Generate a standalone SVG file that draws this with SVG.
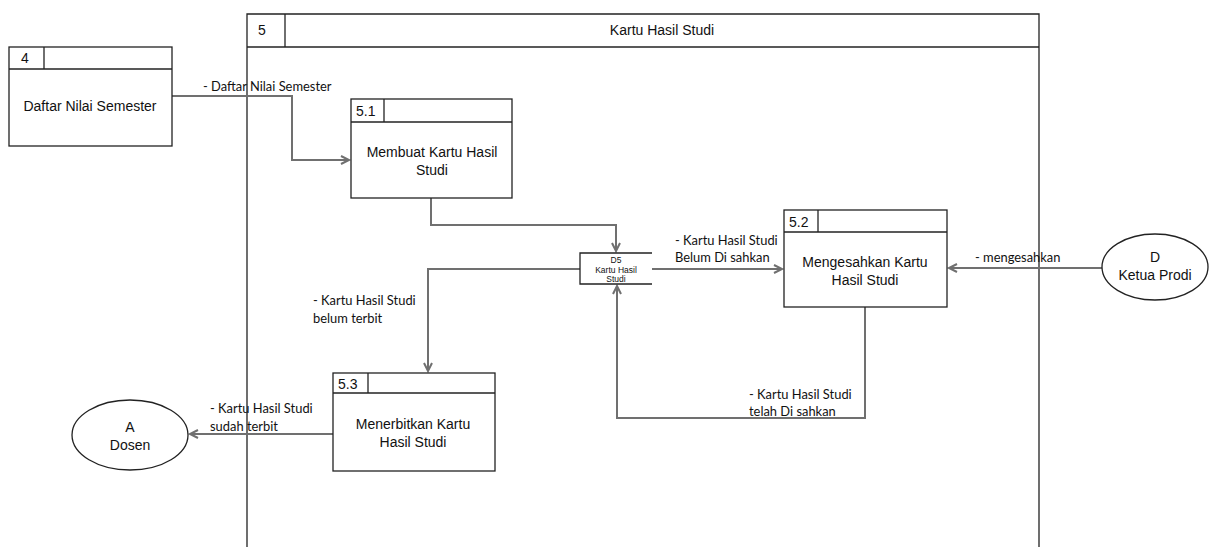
<svg xmlns="http://www.w3.org/2000/svg" width="1209" height="547" viewBox="0 0 1209 547">
  <style>
    .box { fill: #fff; stroke: #222; stroke-width: 1.3; }
    .sep { fill: none; stroke: #222; stroke-width: 1.3; }
    .flow { fill: none; stroke: #707070; stroke-width: 2; }
    .t { font-family: "Liberation Sans", Arial, sans-serif; font-size: 14px; fill: #111; text-anchor: middle; }
    .num { font-family: "Liberation Sans", Arial, sans-serif; font-size: 14px; fill: #111; }
    .lbl { font-family: Lato, "Noto Sans", sans-serif; font-size: 12.9px; fill: #111; }
    .ds { font-family: "Liberation Sans", Arial, sans-serif; font-size: 8.5px; fill: #111; text-anchor: middle; }
  </style>
  <defs>
    <marker id="arr" markerWidth="12" markerHeight="12" refX="9" refY="5" orient="auto" markerUnits="userSpaceOnUse">
      <path d="M1,1 L9,5 L1,9" fill="none" stroke="#707070" stroke-width="2"/>
    </marker>
  </defs>

  <rect width="1209" height="547" fill="#fff"/>

  <!-- Process 5 frame -->
  <g id="p5">
    <path class="box" d="M247,560 L247,14 L1039,14 L1039,560"/>
    <line class="sep" x1="247" y1="47" x2="1039" y2="47"/>
    <line class="sep" x1="285" y1="14" x2="285" y2="47"/>
    <text class="num" x="258" y="35">5</text>
    <text class="t" x="662" y="35" font-size="13">Kartu Hasil Studi</text>
  </g>

  <!-- Connectors -->
  <g id="connectors">
    <polyline class="flow" points="172,96 292,96 292,160 349,160" marker-end="url(#arr)"/>
    <polyline class="flow" points="431,198 431,225 616,225 616,251" marker-end="url(#arr)"/>
    <polyline class="flow" points="652,269 782,269" marker-end="url(#arr)"/>
    <polyline class="flow" points="1102,268 949,268" marker-end="url(#arr)"/>
    <polyline class="flow" points="865,307 865,418 617,418 617,286" marker-end="url(#arr)"/>
    <polyline class="flow" points="580,269 428,269 428,371" marker-end="url(#arr)"/>
    <polyline class="flow" points="333,434 190,434" marker-end="url(#arr)"/>
  </g>

  <!-- Flow labels -->
  <g id="labels">
    <text class="lbl" x="203" y="91">- Daftar Nilai Semester</text>
    <text class="lbl" x="675" y="245">- Kartu Hasil Studi</text>
    <text class="lbl" x="675" y="262">Belum Di sahkan</text>
    <text class="lbl" x="975" y="262">- mengesahkan</text>
    <text class="lbl" x="313" y="305">- Kartu Hasil Studi</text>
    <text class="lbl" x="313" y="323">belum terbit</text>
    <text class="lbl" x="749" y="399">- Kartu Hasil Studi</text>
    <text class="lbl" x="749" y="416">telah Di sahkan</text>
    <text class="lbl" x="210" y="413">- Kartu Hasil Studi</text>
    <text class="lbl" x="210" y="431">sudah terbit</text>
  </g>

  <!-- Process 4 -->
  <g id="p4">
    <rect class="box" x="9" y="47" width="163" height="99"/>
    <line class="sep" x1="9" y1="69" x2="172" y2="69"/>
    <line class="sep" x1="44" y1="47" x2="44" y2="69"/>
    <text class="num" x="21" y="63">4</text>
    <text class="t" x="90" y="111">Daftar Nilai Semester</text>
  </g>

  <!-- Process 5.1 -->
  <g id="p51">
    <rect class="box" x="351" y="99" width="161" height="99"/>
    <line class="sep" x1="351" y1="122" x2="512" y2="122"/>
    <line class="sep" x1="384" y1="99" x2="384" y2="122"/>
    <text class="num" x="356" y="116">5.1</text>
    <text class="t" x="432" y="157">Membuat Kartu Hasil</text>
    <text class="t" x="432" y="175">Studi</text>
  </g>

  <!-- Data store D5 -->
  <g id="d5">
    <rect x="580" y="253" width="72" height="31" fill="#fff"/>
    <path class="sep" d="M652,253 L580,253 L580,284 L652,284"/>
    <text class="ds" x="616" y="263">D5</text>
    <text class="ds" x="616" y="272.5">Kartu Hasil</text>
    <text class="ds" x="616" y="281.5">Studi</text>
  </g>

  <!-- Process 5.2 -->
  <g id="p52">
    <rect class="box" x="784" y="210" width="163" height="97"/>
    <line class="sep" x1="784" y1="232" x2="947" y2="232"/>
    <line class="sep" x1="818" y1="210" x2="818" y2="232"/>
    <text class="num" x="789" y="227">5.2</text>
    <text class="t" x="865" y="267">Mengesahkan Kartu</text>
    <text class="t" x="865" y="285">Hasil Studi</text>
  </g>

  <!-- Process 5.3 -->
  <g id="p53">
    <rect class="box" x="333" y="373" width="162" height="98"/>
    <line class="sep" x1="333" y1="393" x2="495" y2="393"/>
    <line class="sep" x1="368" y1="373" x2="368" y2="393"/>
    <text class="num" x="338" y="389">5.3</text>
    <text class="t" x="413" y="429">Menerbitkan Kartu</text>
    <text class="t" x="413" y="447">Hasil Studi</text>
  </g>

  <!-- External entity D -->
  <g id="eD">
    <ellipse class="box" cx="1155" cy="267" rx="53" ry="33"/>
    <text class="t" x="1155" y="262">D</text>
    <text class="t" x="1155" y="280">Ketua Prodi</text>
  </g>

  <!-- External entity A -->
  <g id="eA">
    <ellipse class="box" cx="130" cy="435" rx="58" ry="35"/>
    <text class="t" x="130" y="432">A</text>
    <text class="t" x="130" y="450">Dosen</text>
  </g>
</svg>
